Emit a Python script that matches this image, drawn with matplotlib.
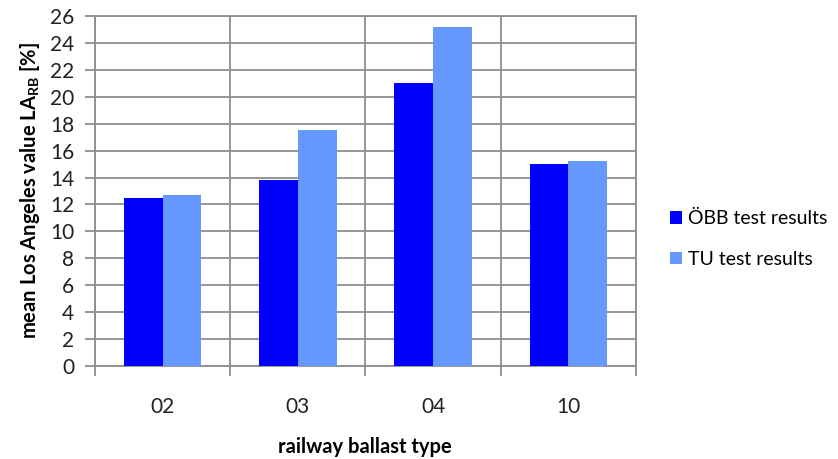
import numpy as np
import matplotlib.pyplot as plt
from matplotlib.ticker import FixedLocator

plt.rcParams['font.family'] = ['Lato', 'DejaVu Sans']

ballast_types = ['02', '03', '04', '10']
obb_results = [12.5, 13.8, 21.0, 15.0]
tu_results = [12.7, 17.5, 25.2, 15.2]

grid_col = '#8e8e8e'
x = np.arange(len(ballast_types))
w = 1 / 3.5  # Excel-style 150% gap width

fig = plt.figure(figsize=(8.38, 4.59), dpi=100)
ax = fig.add_axes([0.1134, 0.2026, 0.6455, 0.7625])

ax.bar(x - w / 2, obb_results, w, color='#0000ff', label='ÖBB test results', zorder=3)
ax.bar(x + w / 2, tu_results, w, color='#6699ff', label='TU test results', zorder=3)

ax.set_xlim(-0.5, 3.5)
ax.set_ylim(0, 26)
ax.set_yticks(np.arange(0, 27, 2))
ax.set_xticks(x)
ax.set_xticklabels(ballast_types)
ax.xaxis.set_minor_locator(FixedLocator(np.arange(-0.5, 3.6, 1)))

ax.grid(axis='y', color=grid_col, linewidth=1.3, zorder=0)
ax.grid(axis='x', which='minor', color=grid_col, linewidth=1.3, zorder=0)
for s in ax.spines.values():
    s.set_color(grid_col)
    s.set_linewidth(1.3)

ax.tick_params(axis='y', length=7, color=grid_col, width=1.3, labelsize=15,
               labelcolor='#222222', pad=8)
ax.tick_params(axis='x', which='major', length=0, labelsize=15,
               labelcolor='#222222', pad=22)
ax.tick_params(axis='x', which='minor', length=7, color=grid_col, width=1.3)

ax.set_ylabel('mean Los Angeles value LA$_{\\mathregular{RB}}$ [%]', fontsize=14.5,
              fontweight='bold', labelpad=6)
fig.text(0.4356, 1 - 447 / 459, 'railway ballast type', fontsize=14.5,
         fontweight='bold', ha='center', va='center')

ax.legend(loc='center left', bbox_to_anchor=(1.042, 0.363), frameon=False,
          fontsize=14, handlelength=0.6, handleheight=0.6, handletextpad=0.3,
          labelspacing=1.2, borderaxespad=0.2)

fig.savefig('out.png', dpi=100)
